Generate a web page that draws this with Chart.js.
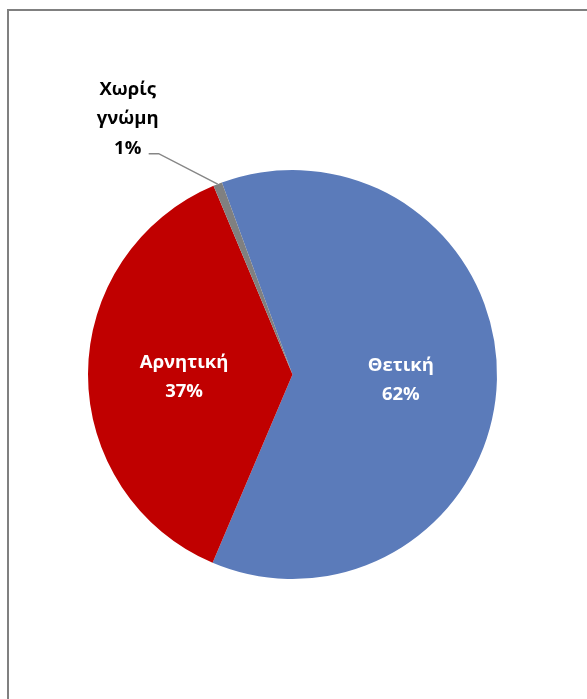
<!DOCTYPE html>
<html>
<head>
<meta charset="utf-8">
<script src="https://cdn.jsdelivr.net/npm/chart.js@4/dist/chart.umd.min.js"></script>
<style>
    body { margin: 0; background: #fff; }
    #frame {
        position: absolute; left: 7px; top: 9px; width: 620px; height: 720px;
        border-left: 2px solid #808080; border-top: 2px solid #808080;
    }
    #opinion-pie { position: absolute; left: 0; top: 0; }
</style>
</head>
<body>
<div id="frame"></div>
<canvas id="opinion-pie" width="587" height="699"></canvas>
<script>
// values (slice angles), labels show rounded percent
var labels = ["Θετική", "Αρνητική", ["Χωρίς", "γνώμη"]];
var values = [62.0, 37.3, 0.7];
var colors = ["#5B7BBA", "#C00000", "#808080"];

var labelFont = "bold 18.5px 'Open Sans'";
var lineHeight = 29.5;

function percentText(i) {
    var total = values.reduce(function (a, b) { return a + b; }, 0);
    return Math.round(values[i] / total * 100) + "%";
}

function textLines(i) {
    var name = labels[i];
    var lines = Array.isArray(name) ? name.slice() : [name];
    lines.push(percentText(i));
    return lines;
}

function drawLines(ctx, lines, cx, cy, color) {
    ctx.fillStyle = color;
    var top = cy - (lines.length - 1) * lineHeight / 2;
    lines.forEach(function (line, k) {
        ctx.fillText(line, cx, top + k * lineHeight);
    });
}

var sliceLabels = {
    id: "sliceLabels",
    afterDatasetsDraw: function (chart) {
        var ctx = chart.ctx;
        var arcs = chart.getDatasetMeta(0).data;
        ctx.save();
        ctx.font = labelFont;
        ctx.textAlign = "center";
        ctx.textBaseline = "middle";
        arcs.forEach(function (arc, i) {
            var p = arc.getProps(["x", "y", "startAngle", "endAngle", "outerRadius"]);
            var mid = (p.startAngle + p.endAngle) / 2;
            var share = values[i] / (values[0] + values[1] + values[2]);
            if (share > 0.05) {
                var r = p.outerRadius * 0.53;
                drawLines(ctx, textLines(i), p.x + Math.cos(mid) * r, p.y + Math.sin(mid) * r + 3, "#ffffff");
            } else {
                // small slice: label outside with a leader line
                var ex = p.x + Math.cos(mid) * p.outerRadius;
                var ey = p.y + Math.sin(mid) * p.outerRadius;
                ctx.strokeStyle = "#868686";
                ctx.lineWidth = 1.5;
                ctx.beginPath();
                ctx.moveTo(ex, ey);
                ctx.lineTo(ex - 59, ey - 30.5);
                ctx.lineTo(ex - 69, ey - 30.5);
                ctx.stroke();
                drawLines(ctx, textLines(i), ex - 90, ey - 65, "#000000");
            }
        });
        ctx.restore();
    }
};

new Chart(document.getElementById("opinion-pie"), {
    type: "pie",
    data: {
        labels: labels,
        datasets: [
            {
                data: values,
                backgroundColor: colors,
                borderWidth: 0
            }
        ]
    },
    options: {
        responsive: false,
        animation: false,
        rotation: -20.2,
        layout: { padding: { left: 88, right: 90, top: 170, bottom: 120 } },
        plugins: {
            legend: { display: false },
            tooltip: { enabled: false }
        }
    },
    plugins: [sliceLabels]
});
</script>
</body>
</html>
